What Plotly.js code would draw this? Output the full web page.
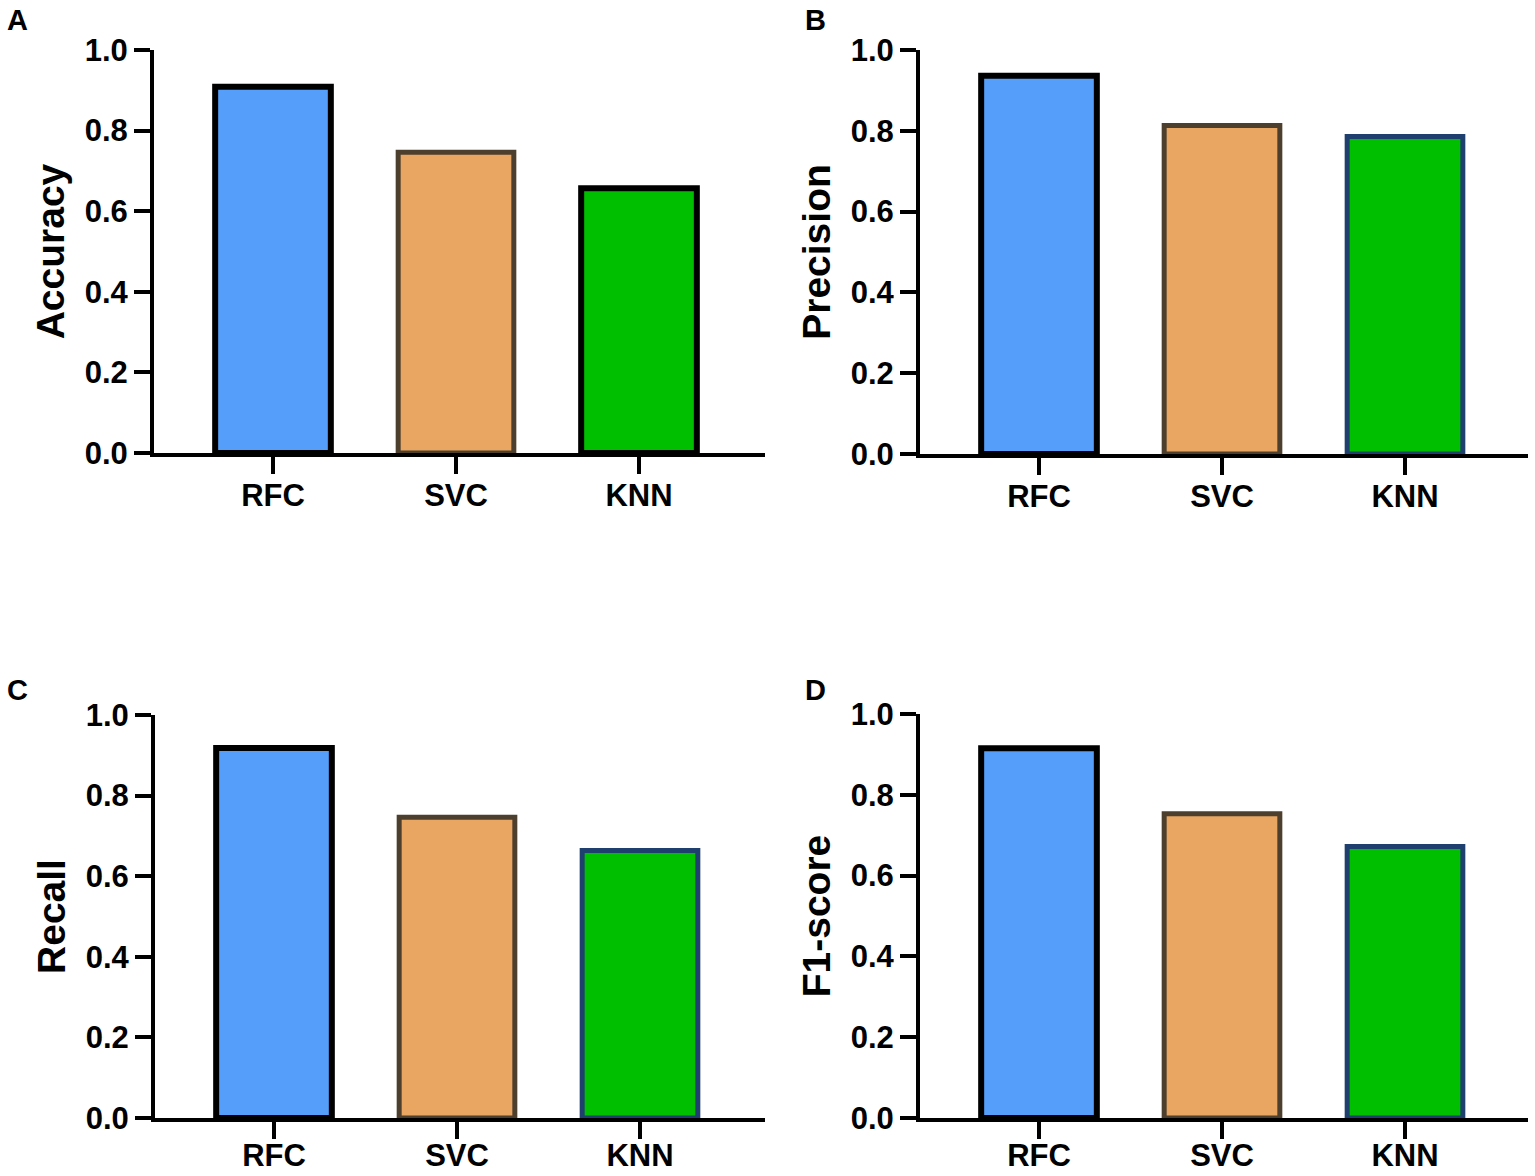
<!DOCTYPE html>
<html>
<head>
<meta charset="utf-8">
<script src="https://cdn.plot.ly/plotly-3.0.1.min.js"></script>
<style>
  html, body { margin: 0; padding: 0; background: #fff; }
  #plot { width: 1535px; height: 1176px; }
</style>
</head>
<body>
<div id="plot"></div>
<script>
// values
let models = ['RFC', 'SVC', 'KNN'];
let accuracy = [0.909, 0.746, 0.657];
let precision = [0.936, 0.813, 0.786];
let recall = [0.918, 0.746, 0.664];
let f1score = [0.915, 0.753, 0.672];
let yTicks = [0, 0.2, 0.4, 0.6, 0.8, 1.0];

let fills = ['#559ffb', '#e8a662', '#00bf00'];
let W = 1535, H = 1176;
let font = 'Liberation Sans, Arial, Helvetica, sans-serif';

// panel: [metric, values, knn outline colour, axis x px, x-axis end px, top px, x-axis y px, letter x, letter y, letter, label standoff]
let panels = [
    ['Accuracy', accuracy, '#000000', 152, 765, 50, 455, 5, 2, 'A', -5],
    ['Precision', precision, '#1f3f6e', 918, 1528, 50, 456, 803, 2, 'B', -5],
    ['Recall', recall, '#1f3f6e', 153, 765, 715, 1120, 5, 672, 'C', -10],
    ['F1-score', f1score, '#1f3f6e', 918, 1528, 714, 1120, 803, 672, 'D', -10]
];

let traces = [];
let layout = {
    width: W,
    height: H,
    margin: {l: 0, r: 0, t: 0, b: 0},
    paper_bgcolor: '#ffffff',
    plot_bgcolor: 'rgba(0,0,0,0)',
    showlegend: false,
    annotations: []
};

panels.forEach((p, i) => {
    let n = i === 0 ? '' : String(i + 1);
    // axis lines are drawn half a line width outside the domain
    let left = p[3] + 2, right = p[4], top = p[5], bottom = p[6] - 2;
    // category spacing is about 183 px, first category ~121 px right of the y axis
    let step = 183;
    let r0 = -119 / step;
    let r1 = r0 + (right - left) / step;

    traces.push({
        type: 'bar',
        x: models,
        y: p[1],
        xaxis: 'x' + n,
        yaxis: 'y' + n,
        width: 0.632,
        marker: {
            color: fills,
            line: {color: ['#000000', '#4d3f2d', p[2]], width: [6, 5, i === 0 ? 6 : 5]}
        },
        hoverinfo: 'x+y'
    });

    layout['xaxis' + n] = {
        domain: [left / W, right / W],
        anchor: 'y' + n,
        type: 'category',
        range: [r0, r1],
        showline: true,
        linecolor: '#000',
        linewidth: 4,
        ticks: 'outside',
        ticklen: 17,
        tickwidth: 4,
        tickcolor: '#000',
        showgrid: false,
        zeroline: false,
        fixedrange: true,
        tickfont: {family: font, size: 31, color: '#000', weight: 'bold'},
        ticklabelstandoff: p[10]
    };
    layout['yaxis' + n] = {
        domain: [1 - bottom / H, 1 - top / H],
        anchor: 'x' + n,
        range: [0, 1],
        tickvals: yTicks,
        tickformat: '.1f',
        showline: true,
        linecolor: '#000',
        linewidth: 4,
        ticks: 'outside',
        ticklen: 16,
        tickwidth: 4,
        tickcolor: '#000',
        showgrid: false,
        zeroline: false,
        fixedrange: true,
        tickfont: {family: font, size: 31, color: '#000', weight: 'bold'},
        ticklabelstandoff: 0,
        title: {
            text: p[0],
            font: {family: font, size: 39, color: '#000', weight: 'bold'},
            standoff: 9
        }
    };
    layout.annotations.push({
        text: p[9],
        xref: 'paper',
        yref: 'paper',
        x: p[7] / W,
        y: 1 - p[8] / H,
        xanchor: 'left',
        yanchor: 'top',
        showarrow: false,
        font: {family: font, size: 29, color: '#000', weight: 'bold'}
    });
});

Plotly.newPlot('plot', traces, layout, {displayModeBar: false, staticPlot: true});
</script>
</body>
</html>
